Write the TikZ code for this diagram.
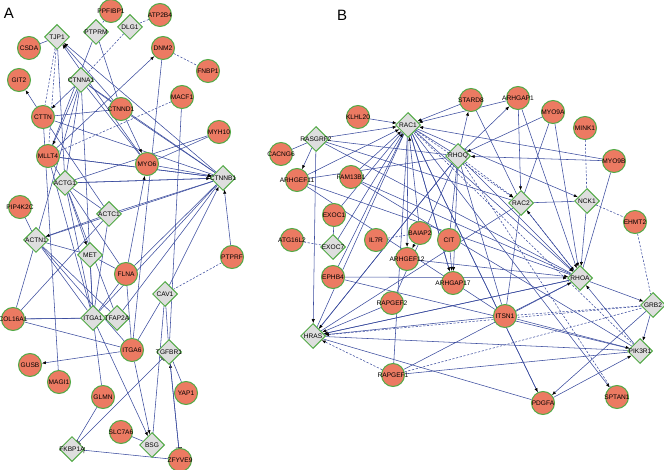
\documentclass[tikz,border=0pt]{standalone}
\usepackage{fontspec}
\setmainfont{Liberation Sans}
\usetikzlibrary{shapes.geometric,arrows.meta,backgrounds}
\definecolor{salmon}{HTML}{EC7A62}
\definecolor{rim}{HTML}{52AA46}
\definecolor{hubgray}{HTML}{DEDEDE}
\definecolor{link}{HTML}{3B4C9E}

\begin{document}
\begin{tikzpicture}[x=1pt,y=-1pt,font=\fontsize{6.6}{7}\selectfont,
  prot/.style={circle,draw=rim,line width=1pt,fill=salmon,minimum size=23pt,inner sep=0pt,label={center:#1}},
  hub/.style={diamond,draw=rim,line width=1pt,fill=hubgray,minimum size=25pt,inner sep=0pt,label={center:#1}},
  edge/.style={link,line width=0.55pt},
  dsh/.style={edge,dash pattern=on 2.2pt off 1.6pt},
  act/.style={edge,-{Latex[length=4pt,width=3.2pt,color=black]}},
  dact/.style={dsh,-{Latex[length=4pt,width=3.2pt,color=black]}},
  inh/.style={edge,-{Bar[width=6pt,color=black]}}]
\useasboundingbox (0,0) rectangle (664,470);
\node[font=\fontsize{15}{15}\selectfont] (labA) at (9,13) {A};
\node[font=\fontsize{15}{15}\selectfont] (labB) at (342,15) {B};

% panel A
\foreach \n/\x/\y in {PPFIBP1/111/11,ATP2B4/160/15,CSDA/29/48,DNM2/163/48,FNBP1/208/71,
  GIT2/19/80,MACF1/182/97,CTTN/43/117,CTNND1/121/109,MYH10/219/132,MLLT4/48/156,
  MYO6/147/164,PIP4K2C/20/207,PTPRF/232/257,FLNA/126/274,COL16A1/13/319,ITGA6/132/350,
  GUSB/30/365,MAGI1/59/382,YAP1/186/393,GLMN/103/397,SLC7A6/121/432,ZFYVE9/180/460}
  \node[prot=\n] (\n) at (\x,\y) {};
\foreach \n/\x/\y in {TJP1/57/37,PTPRM/96/32,DLG1/130/27,CTNNA1/81/80,ACTG1/65/183,
  CTNNB1/223/178,ACTC1/109/214,ACTN1/36/240,MET/90/255,CAV1/165/294,ITGA1/93/318,
  TFAP2A/117/318,TGFBR1/169/352,BSG/152/445,FKBP1A/72/449}
  \node[hub=\n] (\n) at (\x,\y) {};

% panel B
\foreach \n/\x/\y in {KLHL20/358/117,STARD8/471/100,ARHGAP1/518/98,MYO9A/553/112,
  MINK1/585/128,MYO9B/614/161,CACNG6/281/154,ARHGEF11/297/180,FAM13B1/351/177,
  EHMT2/635/222,EXOC1/334/215,ATG16L2/292/240,IL7R/376/240,BAIAP2/420/233,CIT/449/240,
  ARHGEF12/407/259,ARHGAP17/453/283,EPHB4/333/277,RAPGEF2/392/303,ITSN1/505/316,
  RAPGEF1/393/375,PDGFA/543/403,SPTAN1/617/397}
  \node[prot=\n] (\n) at (\x,\y) {};
\foreach \n/\x/\y in {RASGRF2/316/139,RAC1/408/125,RHOQ/458/156,RAC2/521/203,
  NCK1/587/201,EXOC7/333/247,RHOA/580/278,GRB2/653/305,HRAS/313/336,PIK3R1/640/351}
  \node[hub=\n] (\n) at (\x,\y) {};

\begin{scope}[on background layer]
% A links
\foreach \a/\b in {CSDA/TJP1,PTPRM/CTNND1,PTPRM/MLLT4,CTNNA1/CTNNB1,CTNNA1/CTNND1,
  CTNNA1/ACTG1,CTNNA1/ACTN1,CTNNA1/ITGA1,CTTN/CTNND1,CTTN/CTNNB1,CTTN/ACTC1,
  CTNND1/CTNNB1,MYH10/ACTG1,MYH10/MYO6,MLLT4/CTNNB1,MLLT4/ACTG1,MLLT4/ITGA1,
  ACTG1/CTNNB1,ACTG1/ACTC1,ACTG1/ITGA1,ACTG1/FLNA,ACTG1/TFAP2A,ACTC1/CTNNB1,
  ACTC1/ITGA1,ACTC1/COL16A1,PIP4K2C/ACTN1,ACTN1/CTNNB1,ACTN1/ITGA1,ACTN1/COL16A1,
  ACTN1/ITGA6,ACTN1/TFAP2A,MET/FLNA,MET/ITGA1,FLNA/CTNNB1,FLNA/ITGA1,FLNA/ITGA6,
  CAV1/ITGA6,CAV1/TGFBR1,CAV1/BSG,COL16A1/ITGA1,COL16A1/ITGA6,COL16A1/TFAP2A,
  MAGI1/CTTN,GLMN/ITGA1,GLMN/FKBP1A,TGFBR1/YAP1,SLC7A6/BSG,DNM2/ITGA6,MACF1/TGFBR1,
  TJP1/ACTG1,CTNNA1/MYO6,ITGA1/CTNNB1,TFAP2A/CTNNB1,MET/ACTN1}
  \draw[edge] (\a) -- (\b);
\foreach \a/\b in {PPFIBP1/PTPRM,ATP2B4/DLG1,DLG1/CTNNA1,TJP1/MLLT4,TJP1/CTTN,
  DNM2/FNBP1,MACF1/MLLT4,PTPRF/CAV1}
  \draw[dsh] (\a) -- (\b);
\foreach \a/\b in {CTNNA1/CTTN,CTTN/GIT2,CTNND1/TJP1,MYO6/TJP1,CTNNB1/TJP1,MLLT4/DNM2,
  CTNNA1/MLLT4,MYO6/CTNNB1,CTNND1/MYO6,ACTC1/ACTN1,ACTG1/MET,FLNA/MYO6,PTPRF/CTNNB1,
  CAV1/CTNNB1,ITGA6/GUSB,ITGA6/BSG,ZFYVE9/TGFBR1,ITGA1/BSG,MLLT4/CTNNB1,ACTG1/CTNNB1}
  \draw[act] (\a) -- (\b);
\draw[inh] (TGFBR1) -- (ZFYVE9);
\draw[inh] (ZFYVE9) -- (FKBP1A);
\draw[edge,{Bar[width=6pt,color=black]}-{Bar[width=6pt,color=black]}] (FKBP1A) -- (TGFBR1);

% B links
\foreach \a/\b in {CACNG6/RASGRF2,RASGRF2/RHOQ,RASGRF2/RAC2,RASGRF2/RHOA,STARD8/RAC2,
  MYO9A/RAC2,MYO9B/RHOA,ARHGEF11/RHOA,ARHGEF11/RHOQ,FAM13B1/RHOA,RHOQ/RAC1,RAC2/NCK1,
  EXOC1/EXOC7,EXOC1/RAC1,EPHB4/RAC1,ITSN1/RAC2,ITSN1/HRAS,HRAS/PIK3R1,HRAS/RAC1,
  HRAS/RHOQ,RAPGEF1/RAC1,RAPGEF1/PIK3R1,RAPGEF1/RHOA,PDGFA/RAC1,PDGFA/HRAS,
  HRAS/RHOA,HRAS/RAC2,RAPGEF2/RHOQ,ITSN1/RHOQ,EPHB4/PIK3R1,ARHGEF11/ITSN1,
  FAM13B1/PIK3R1,CIT/RHOQ,ARHGAP17/RAC1}
  \draw[edge] (\a) -- (\b);
\foreach \a/\b in {MINK1/NCK1,NCK1/EHMT2,EHMT2/GRB2,ATG16L2/EXOC7,IL7R/BAIAP2,
  ITSN1/GRB2,RHOQ/SPTAN1,RAPGEF1/GRB2,RAC1/PIK3R1}
  \draw[dsh] (\a) -- (\b);
\foreach \a/\b in {RASGRF2/ARHGEF11,RASGRF2/HRAS,RASGRF2/RAC1,KLHL20/RAC1,STARD8/RAC1,
  ARHGAP1/RAC1,RHOQ/ARHGAP1,RHOQ/STARD8,MYO9A/RHOA,MYO9B/RHOQ,MYO9B/RAC1,ARHGEF11/RAC1,
  FAM13B1/RAC1,RAC1/NCK1,EXOC7/RAC1,BAIAP2/RAC1,RAC1/ARHGEF12,CIT/ARHGAP17,
  RAC1/ARHGAP17,EPHB4/RHOA,RAPGEF2/HRAS,ITSN1/PIK3R1,RHOA/GRB2,GRB2/PIK3R1,
  PDGFA/PIK3R1,GRB2/PDGFA,RAC1/SPTAN1,ARHGAP1/RHOA,RAC2/RHOA,NCK1/RHOA,
  ITSN1/RHOA,ARHGEF12/RHOA,PIK3R1/RHOA,RAC1/RHOA,RHOQ/RHOA,ARHGAP1/RAC2,
  MYO9A/RHOQ,RAC1/PDGFA,RHOQ/HRAS,RHOA/HRAS,BAIAP2/ARHGEF12,RHOQ/ARHGAP17}
  \draw[act] (\a) -- (\b);
\foreach \a/\b in {RAC1/RAC2,RHOQ/RAC2,RAPGEF1/HRAS,GRB2/HRAS,RHOA/RAC2}
  \draw[dact] (\a) -- (\b);
\end{scope}
\end{tikzpicture}
\end{document}
